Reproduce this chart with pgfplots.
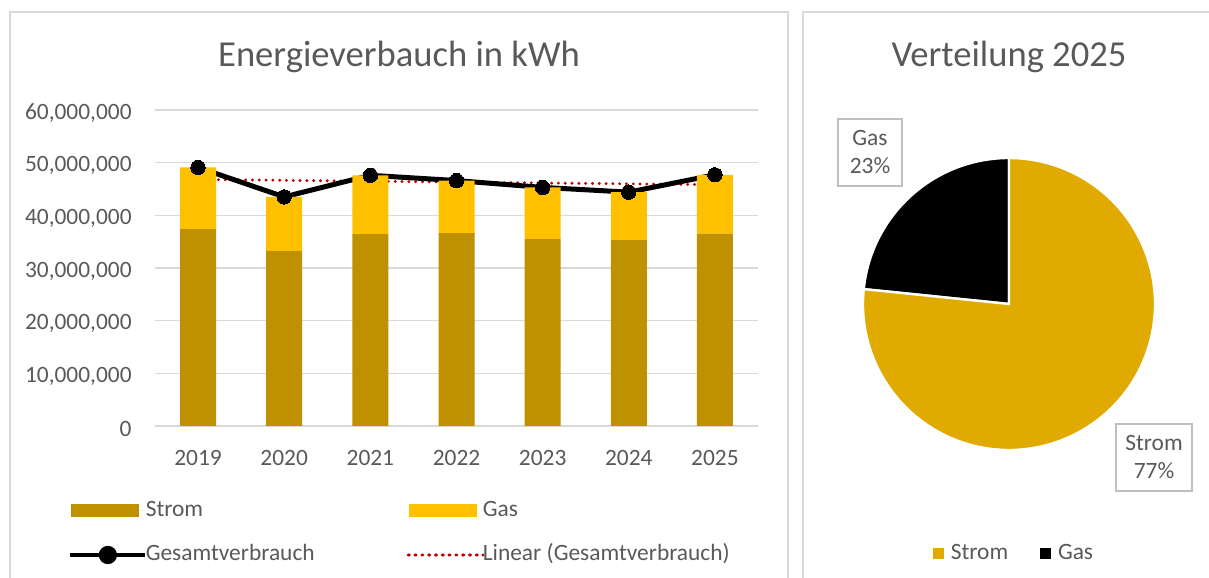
\documentclass[border=0pt]{standalone}
\usepackage{fontspec}
\setmainfont{Carlito}
\usepackage{pgfplots}
\usepackage{pgfplotstable}
\pgfplotsset{compat=1.18}
\definecolor{strom}{HTML}{BF9000}
\definecolor{gas}{HTML}{FFC000}
\definecolor{piestrom}{HTML}{E0AA00}
\definecolor{txt}{HTML}{595959}
\definecolor{gridc}{HTML}{D9D9D9}
\definecolor{trend}{HTML}{C00000}
\definecolor{boxc}{HTML}{BFBFBF}

\pgfplotstableread{
x year strom gas total
0 2019 37400000 11700000 49100000
1 2020 33200000 10300000 43500000
2 2021 36450000 11150000 47600000
3 2022 36600000 10000000 46600000
4 2023 35500000 9800000 45300000
5 2024 35300000 9100000 44400000
6 2025 36550000 11150000 47700000
}\data

\begin{document}
\begin{tikzpicture}[font=\fontsize{11.7bp}{14bp}\selectfont, every node/.append style={text=txt}]
\path[use as bounding box] (0,0) rectangle (604.5bp,289bp);
\clip (0,0) rectangle (604.5bp,289bp);
% panel frames
\draw[gridc, line width=0.75bp] (5bp,-20bp) rectangle (394bp,283bp);
\draw[gridc, line width=0.75bp] (401.5bp,-20bp) rectangle (640bp,283bp);
% titles
\node[anchor=base, font=\fontsize{18.3bp}{22bp}\selectfont] at (199.5bp,255.5bp) {Energieverbauch in kWh};
\node[anchor=base, font=\fontsize{18.3bp}{22bp}\selectfont] at (504.5bp,255.5bp) {Verteilung 2025};

\begin{axis}[
  at={(77.5bp,76bp)}, anchor=south west, scale only axis,
  width=301.5bp, height=158bp,
  xmin=-0.5, xmax=6.5, ymin=0, ymax=60000000,
  axis line style={draw=none}, major tick length=0pt,
  ytick={0,10000000,20000000,30000000,40000000,50000000,60000000},
  scaled y ticks=false,
  ymajorgrids, grid style={gridc, line width=0.75bp},
  xtick={0,1,2,3,4,5,6}, xticklabels={2019,2020,2021,2022,2023,2024,2025},
  yticklabel style={anchor=east, inner sep=0pt, xshift=-11.5bp, yshift=-1.5bp, text=txt,
    /pgf/number format/.cd, fixed, precision=0, 1000 sep={,}, assume math mode=true},
  xticklabel style={anchor=base, inner sep=0pt, yshift=-19.5bp, text=txt},
  ybar stacked, bar width=18bp,
  legend columns=2,
  legend style={draw=none, fill=none, inner sep=0pt, outer sep=0pt,
    at={(-0.1443,-0.3386)}, anchor=west, row sep=11bp,
    nodes={inner sep=0pt, text height=8.5bp, text depth=2.5bp, text=txt},
    /tikz/every odd column/.append style={column sep=-1bp},
    /tikz/every even column/.append style={column sep=46bp}},
  legend cell align=left,
]
\addplot[fill=strom, draw=none,
  legend image code/.code={\path (0bp,0bp) -- (37.5bp,0bp); \fill[strom] (0.5bp,-3.25bp) rectangle (34.5bp,3.25bp);}]
  table[x=x, y=strom] {\data};
\addlegendentry{Strom}
\addplot[fill=gas, draw=none,
  legend image code/.code={\path (0bp,0bp) -- (37.5bp,0bp); \fill[gas] (0.5bp,-3.25bp) rectangle (34.5bp,3.25bp);}]
  table[x=x, y=gas] {\data};
\addlegendentry{Gas}
\addplot[sharp plot, stack plots=false, black, line width=2.5bp, mark=*, mark size=3.6bp,
  mark options={fill=black, line width=0pt},
  legend image code/.code={\draw[black, line width=2.4bp] (0bp,0bp) -- (37.5bp,0bp); \fill[black] (18.75bp,0bp) circle (3.3bp);}]
  table[x=x, y=total] {\data};
\addlegendentry{Gesamtverbrauch}
\addplot[sharp plot, stack plots=false, trend, line width=1.6bp, line cap=round,
  dash pattern=on 0pt off 3.4bp, no marks,
  legend image code/.code={\path (0bp,0bp) -- (37.5bp,0bp); \draw[trend, line width=1.6bp, line cap=round, dash pattern=on 0pt off 3.4bp] (0.5bp,0bp) -- (34.5bp,0bp);}]
  table[x=x, y={create col/linear regression={y=total}}] {\data};
\addlegendentry{Linear (Gesamtverbrauch)}
\end{axis}

% pie values from the table (2025 row)
\pgfplotstablegetelem{6}{strom}\of\data \let\stromval\pgfplotsretval
\pgfplotstablegetelem{6}{gas}\of\data \let\gasval\pgfplotsretval
\pgfkeys{/pgf/fpu=true, /pgf/fpu/output format=fixed}
\pgfmathsetmacro\gasdeg{360*\gasval/(\gasval+\stromval)}
\pgfmathsetmacro\gasend{90+\gasdeg}
\pgfkeys{/pgf/fpu=false}

\begin{axis}[
  at={(504.5bp,137bp)}, anchor=center, scale only axis,
  width=146bp, height=146bp, xmin=-1, xmax=1, ymin=-1, ymax=1,
  hide axis, clip=false,
  legend columns=2,
  legend style={draw=none, fill=none, inner sep=0pt, outer sep=0pt,
    at={(0.2397,-0.353)}, anchor=west,
    nodes={inner sep=0pt, text height=8.5bp, text depth=2.5bp, text=txt},
    /tikz/every odd column/.append style={column sep=3.5bp},
    /tikz/every even column/.append style={column sep=16bp}},
  legend cell align=left,
]
\fill[black, draw=white, line width=1.2bp] (axis cs:0,0) -- ++(90:73bp) arc[start angle=90, end angle=\gasend, radius=73bp] -- cycle;
\fill[piestrom, draw=white, line width=1.2bp] (axis cs:0,0) -- ++(\gasend:73bp) arc[start angle=\gasend, end angle=450, radius=73bp] -- cycle;
\addlegendimage{legend image code/.code={\fill[piestrom] (0bp,-2.5bp) rectangle (5bp,2.5bp);}}
\addlegendentry{Strom}
\addlegendimage{legend image code/.code={\fill[black] (0bp,-2.5bp) rectangle (5bp,2.5bp);}}
\addlegendentry{Gas}
\end{axis}

% data labels
\node[draw=boxc, line width=0.6bp, align=center, minimum width=32bp, minimum height=33.5bp, inner sep=1bp] at (435bp,212.75bp) {Gas\\23\%};
\node[draw=boxc, line width=0.6bp, align=center, minimum width=38bp, minimum height=33.5bp, inner sep=1bp] at (577bp,60.25bp) {Strom\\77\%};
\end{tikzpicture}
\end{document}
